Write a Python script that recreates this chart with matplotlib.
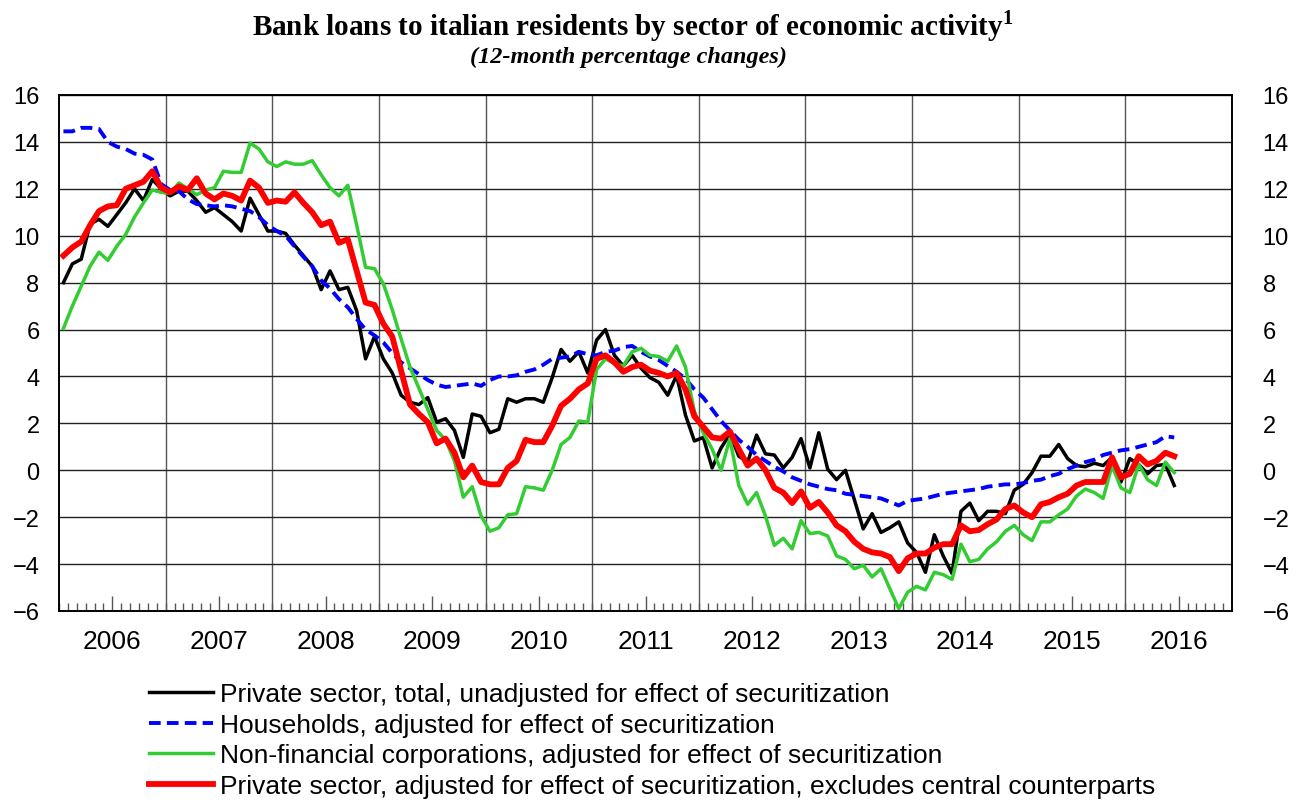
import matplotlib
matplotlib.use('Agg')
import matplotlib.pyplot as plt
import numpy as np

plt.rcParams['font.family'] = ['Liberation Sans', 'DejaVu Sans']
plt.rcParams['mathtext.fontset'] = 'custom'
plt.rcParams['mathtext.bf'] = 'Liberation Serif:bold'
plt.rcParams['mathtext.rm'] = 'Liberation Serif:bold'

# monthly data, Jan 2006 - Jun 2016
years = [2006, 2007, 2008, 2009, 2010, 2011, 2012, 2013, 2014, 2015, 2016]

private_total = [
    8.0, 8.8, 9.0, 10.5, 10.7, 10.4, 10.9, 11.4, 12.0, 11.5, 12.4, 12.0,
    11.7, 11.9, 11.9, 11.5, 11.0, 11.2, 10.9, 10.6, 10.2, 11.6, 10.9, 10.2,
    10.2, 10.1, 9.6, 9.15, 8.7, 7.7, 8.5, 7.7, 7.8, 6.8, 4.75, 5.7,
    4.75, 4.15, 3.2, 2.9, 2.8, 3.1, 2.05, 2.2, 1.7, 0.55, 2.4, 2.3,
    1.6, 1.75, 3.05, 2.9, 3.05, 3.05, 2.9, 3.95, 5.15, 4.65, 5.05, 4.15,
    5.55, 6.0, 4.9, 4.45, 4.9, 4.35, 3.95, 3.75, 3.2, 4.05, 2.35, 1.25,
    1.4, 0.1, 0.95, 1.55, 0.6, 0.35, 1.5, 0.7, 0.65, 0.1, 0.55, 1.35,
    0.1, 1.6, 0.05, -0.4, 0.0, -1.25, -2.5, -1.85, -2.65, -2.45, -2.2, -3.1,
    -3.5, -4.35, -2.75, -3.65, -4.4, -1.75, -1.4, -2.15, -1.75, -1.75, -1.85, -0.85,
    -0.6, -0.1, 0.6, 0.6, 1.1, 0.5, 0.2, 0.15, 0.3, 0.2, 0.55, -0.5,
    0.5, 0.25, -0.15, 0.2, 0.25, -0.65,
]

households = [
    14.45, 14.45, 14.6, 14.6, 14.55, 14.0, 13.8, 13.7, 13.5, 13.45, 13.25, 12.2,
    11.95, 11.9, 11.55, 11.35, 11.3, 11.25, 11.3, 11.25, 11.15, 11.05, 10.8, 10.45,
    10.2, 10.0, 9.55, 9.1, 8.7, 8.1, 7.75, 7.3, 6.95, 6.45, 6.0, 5.75,
    5.45, 5.0, 4.6, 4.35, 4.1, 3.85, 3.65, 3.55, 3.6, 3.65, 3.7, 3.6,
    3.85, 4.0, 4.0, 4.05, 4.2, 4.3, 4.5, 4.75, 4.8, 4.85, 5.05, 4.95,
    4.9, 5.05, 5.1, 5.25, 5.3, 5.05, 4.85, 4.7, 4.45, 4.2, 3.9, 3.45,
    3.1, 2.6, 2.1, 1.7, 1.3, 1.0, 0.65, 0.4, 0.15, -0.05, -0.3, -0.45,
    -0.6, -0.7, -0.8, -0.85, -1.0, -1.05, -1.1, -1.15, -1.2, -1.35, -1.5, -1.3,
    -1.25, -1.2, -1.1, -1.0, -0.95, -0.9, -0.85, -0.8, -0.7, -0.65, -0.6, -0.6,
    -0.55, -0.45, -0.4, -0.25, -0.15, 0.05, 0.2, 0.35, 0.45, 0.65, 0.75, 0.85,
    0.9, 1.0, 1.1, 1.2, 1.45, 1.4,
]

nonfin_corp = [
    6.05, 7.0, 7.85, 8.7, 9.3, 8.95, 9.55, 10.05, 10.8, 11.4, 11.95, 11.85,
    11.8, 12.25, 12.0, 11.75, 11.95, 12.05, 12.75, 12.7, 12.7, 13.95, 13.7, 13.15,
    12.95, 13.15, 13.05, 13.05, 13.2, 12.6, 12.05, 11.7, 12.15, 10.45, 8.65, 8.6,
    7.95, 6.85, 5.6, 4.4, 3.5, 2.6, 1.7, 1.3, 0.4, -1.15, -0.7, -1.95,
    -2.6, -2.45, -1.9, -1.85, -0.7, -0.75, -0.85, 0.0, 1.1, 1.4, 2.1, 2.05,
    4.3, 4.75, 4.55, 4.45, 5.05, 5.2, 4.9, 4.85, 4.65, 5.3, 4.4, 2.5,
    1.6, 0.9, 0.0, 1.35, -0.65, -1.45, -0.95, -1.95, -3.2, -2.9, -3.35, -2.15,
    -2.7, -2.65, -2.8, -3.65, -3.8, -4.2, -4.05, -4.55, -4.2, -5.05, -5.9, -5.2,
    -4.95, -5.1, -4.35, -4.45, -4.65, -3.15, -3.9, -3.8, -3.35, -3.05, -2.6, -2.35,
    -2.75, -3.0, -2.2, -2.2, -1.9, -1.65, -1.1, -0.8, -0.95, -1.2, 0.2, -0.75,
    -0.95, 0.25, -0.4, -0.65, 0.35, -0.1,
]

private_adj = [
    9.15, 9.5, 9.75, 10.45, 11.05, 11.25, 11.3, 12.0, 12.15, 12.3, 12.75, 12.05,
    11.85, 12.1, 11.95, 12.45, 11.8, 11.55, 11.8, 11.7, 11.5, 12.35, 12.05, 11.4,
    11.5, 11.45, 11.85, 11.4, 11.0, 10.45, 10.6, 9.7, 9.85, 8.5, 7.15, 7.05,
    6.25, 5.7, 4.25, 2.8, 2.4, 2.05, 1.15, 1.35, 0.75, -0.3, 0.2, -0.5,
    -0.6, -0.6, 0.1, 0.4, 1.3, 1.2, 1.2, 1.9, 2.75, 3.05, 3.45, 3.7,
    4.75, 4.9, 4.6, 4.2, 4.4, 4.5, 4.25, 4.15, 4.0, 4.15, 3.45, 2.3,
    1.85, 1.4, 1.35, 1.65, 0.9, 0.2, 0.5, 0.0, -0.75, -0.95, -1.4, -0.9,
    -1.6, -1.35, -1.8, -2.35, -2.6, -3.05, -3.35, -3.5, -3.55, -3.7, -4.3, -3.75,
    -3.55, -3.55, -3.3, -3.15, -3.15, -2.35, -2.6, -2.55, -2.3, -2.1, -1.65, -1.5,
    -1.8, -2.0, -1.45, -1.35, -1.15, -1.0, -0.65, -0.5, -0.5, -0.5, 0.55, -0.3,
    -0.15, 0.6, 0.25, 0.4, 0.75, 0.6,
]

labels = [
    'Private sector, total, unadjusted for effect of securitization',
    'Households, adjusted for effect of securitization',
    'Non-financial corporations, adjusted for effect of securitization',
    'Private sector, adjusted for effect of securitization, excludes central counterparts',
]

months = np.arange(len(private_total))
n_months = 12 * len(years)

fig = plt.figure(figsize=(13.07, 8.03), dpi=100)
ax = fig.add_axes([59 / 1307, 1 - 612 / 803, (1232 - 59) / 1307, (612 - 96) / 803])

ax.plot(months, private_total, color='black', lw=2.5, label=labels[0])
ax.plot(months, households, color='#0000ff', lw=2.8, dashes=(3.0, 1.6), label=labels[1])
ax.plot(months, nonfin_corp, color='#33cc33', lw=2.5, label=labels[2])
ax.plot(months, private_adj, color='#ff0000', lw=4.2, label=labels[3])

ax.set_xlim(-0.5, n_months - 0.5)
ax.set_ylim(-6, 16)
yt = np.arange(-6, 17, 2)
ax.set_yticks(yt)
ax.yaxis.grid(True, color='#222222', lw=1.0)
for k in range(1, len(years)):
    ax.axvline(12 * k - 0.5, color='#555555', lw=1.0, zorder=0.5)

# year labels at mid-year, month ticks inside
ax.set_xticks([12 * k + 5.5 for k in range(len(years))])
ax.set_xticklabels([str(y) for y in years], fontsize=19)
minor = [12 * k + j - 0.5 for k in range(len(years)) for j in range(12) if j != 6]
ax.set_xticks(minor, minor=True)
ax.tick_params(axis='x', which='major', direction='in', length=11, width=1, color='#555555', pad=13)
ax.tick_params(axis='x', which='minor', direction='in', length=6, width=1, color='#555555')
ax.tick_params(axis='y', which='major', length=0, labelsize=17, pad=14)

ax2 = ax.twinx()
ax2.set_ylim(-6, 16)
ax2.set_yticks(yt)
ax2.tick_params(axis='y', length=0, labelsize=17, pad=22)

for a in (ax, ax2):
    for s in a.spines.values():
        s.set_color('black')
        s.set_linewidth(1.2)

fig.text(0.484, 1 - 26 / 803, r'Bank loans to italian residents by sector of economic activity$^{1}$',
         ha='center', va='center', fontsize=21, fontweight='bold', family='Liberation Serif')
fig.text(0.481, 1 - 57 / 803, '(12-month percentage changes)', ha='center', va='center',
         fontsize=17.5, fontweight='bold', style='italic', family='Liberation Serif')

h, l = ax.get_legend_handles_labels()
fig.legend(h, l, loc='upper left', bbox_to_anchor=(136 / 1307, 1 - 670 / 803), frameon=False,
           fontsize=19, handlelength=2.4, handletextpad=0.3, labelspacing=0.25, borderpad=0)

fig.savefig('out.png', dpi=100)
